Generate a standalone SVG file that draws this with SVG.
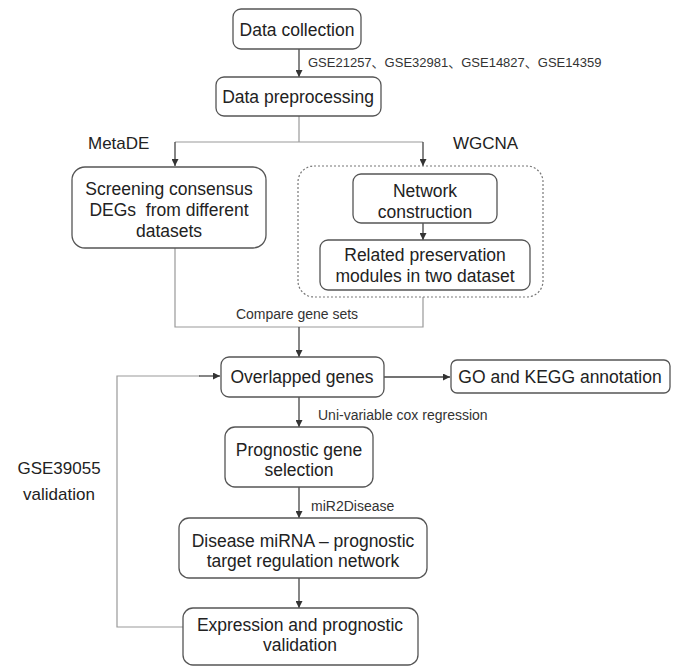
<svg xmlns="http://www.w3.org/2000/svg" width="680" height="666" viewBox="0 0 680 666">
<defs>
<style>
.box{fill:#fff;stroke:#555;stroke-width:1.3}
.dash{fill:none;stroke:#777;stroke-width:1.2;stroke-dasharray:2,2}
.t{font-family:"Liberation Sans",Arial,sans-serif;font-size:17.5px;fill:#222;text-anchor:middle}
.s{font-family:"Liberation Sans",Arial,sans-serif;font-size:14px;fill:#333}
.g{font-family:"Liberation Sans","Noto Sans CJK SC",Arial,sans-serif;font-size:13px;fill:#333}
.l{font-family:"Liberation Sans",Arial,sans-serif;font-size:17px;fill:#222}
.a{fill:none;stroke:#444;stroke-width:1.3}
.lt{fill:none;stroke:#999;stroke-width:1.2}
</style>
<marker id="ah" viewBox="0 0 10 10" refX="10" refY="5" markerWidth="7" markerHeight="7" markerUnits="userSpaceOnUse" orient="auto">
<path d="M0,0 L10,5 L0,10 z" fill="#333"/>
</marker>
</defs>
<g id="connectors">
<line class="a" x1="299" y1="49" x2="299" y2="77" marker-end="url(#ah)"/>
<polyline class="lt" points="299,116 299,142"/>
<polyline class="lt" points="175,142 423,142"/>
<line class="a" x1="175" y1="142" x2="175" y2="166" marker-end="url(#ah)"/>
<line class="a" x1="423" y1="142" x2="423" y2="166" marker-end="url(#ah)"/>
<line class="a" x1="423" y1="223" x2="423" y2="240" marker-end="url(#ah)"/>
<polyline class="lt" points="175,248 175,327 423,327 423,297"/>
<line class="a" x1="299" y1="327" x2="299" y2="357" marker-end="url(#ah)"/>
<line class="a" x1="384" y1="377" x2="450" y2="377" marker-end="url(#ah)"/>
<line class="a" x1="299" y1="397" x2="299" y2="427" marker-end="url(#ah)"/>
<line class="a" x1="299" y1="487" x2="299" y2="518" marker-end="url(#ah)"/>
<line class="a" x1="299" y1="578" x2="299" y2="608" marker-end="url(#ah)"/>
<polyline class="lt" points="183,627 117,627 117,376 200,376"/>
<line class="a" x1="199" y1="376" x2="220" y2="376" marker-end="url(#ah)"/>
<text class="g" x="308" y="67">GSE21257、GSE32981、GSE14827、GSE14359</text>
<text class="l" x="88" y="149">MetaDE</text>
<text class="l" x="453" y="149">WGCNA</text>
<text class="s" x="297" y="319" text-anchor="middle">Compare gene sets</text>
<text class="s" x="318" y="420">Uni-variable cox regression</text>
<text class="s" x="311" y="511">miR2Disease</text>
<text class="l" x="59" y="474" text-anchor="middle">GSE39055</text>
<text class="l" x="59" y="500" text-anchor="middle">validation</text>
</g>
<g id="data-collection">
<rect class="box" x="233" y="9" width="128" height="40" rx="8"/>
<text class="t" x="297" y="35.5">Data collection</text>
</g>
<g id="data-preprocessing">
<rect class="box" x="216" y="77" width="165" height="39" rx="8"/>
<text class="t" x="298" y="103">Data preprocessing</text>
</g>
<g id="screening">
<rect class="box" x="72" y="167" width="194" height="81" rx="13"/>
<text class="t" x="169" y="195">Screening consensus</text>
<text class="t" x="169" y="216">DEGs&#160; from different</text>
<text class="t" x="169" y="237">datasets</text>
</g>
<g id="wgcna-group">
<rect class="dash" x="298" y="166" width="245" height="131" rx="16"/>
</g>
<g id="network-construction">
<rect class="box" x="353" y="174" width="144" height="49" rx="8"/>
<text class="t" x="425" y="197">Network</text>
<text class="t" x="425" y="218">construction</text>
</g>
<g id="related-modules">
<rect class="box" x="320" y="240" width="210" height="50" rx="8"/>
<text class="t" x="425" y="261">Related preservation</text>
<text class="t" x="425" y="282">modules in two dataset</text>
</g>
<g id="overlapped-genes">
<rect class="box" x="221" y="357" width="163" height="40" rx="8"/>
<text class="t" x="302" y="383">Overlapped genes</text>
</g>
<g id="go-kegg">
<rect class="box" x="451" y="360" width="219" height="33" rx="6"/>
<text class="t" x="560" y="383">GO and KEGG annotation</text>
</g>
<g id="prognostic-gene">
<rect class="box" x="225" y="427" width="148" height="60" rx="10"/>
<text class="t" x="299" y="456">Prognostic gene</text>
<text class="t" x="299" y="476">selection</text>
</g>
<g id="disease-mirna">
<rect class="box" x="179" y="518" width="248" height="60" rx="10"/>
<text class="t" x="303" y="547">Disease miRNA – prognostic</text>
<text class="t" x="303" y="567">target regulation network</text>
</g>
<g id="expression-validation">
<rect class="box" x="183" y="608" width="235" height="57" rx="10"/>
<text class="t" x="300" y="631">Expression and prognostic</text>
<text class="t" x="300" y="651">validation</text>
</g>
</svg>
